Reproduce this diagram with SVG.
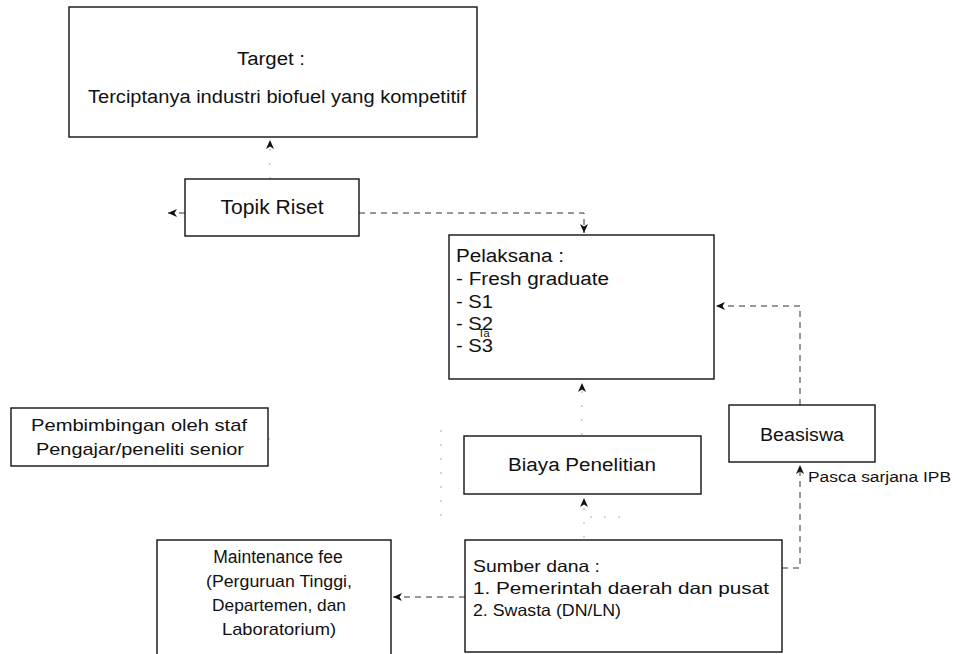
<svg xmlns="http://www.w3.org/2000/svg" width="954" height="654" viewBox="0 0 954 654">
  <defs>
    <marker id="arrow" markerWidth="10" markerHeight="10" refX="9" refY="5" orient="auto" markerUnits="userSpaceOnUse">
      <path d="M0,1 L9,5 L0,9 L2.5,5 Z" fill="#111"/>
    </marker>
  </defs>
  <style>
    .box{fill:#fff;stroke:#111;stroke-width:1.4}
    .t{font-family:"Liberation Sans",Arial,sans-serif;fill:#111}
    .c{text-anchor:middle}
    .dash{fill:none;stroke:#333;stroke-width:1;stroke-dasharray:6 5}
    .faint{fill:none;stroke:#aaa;stroke-width:1;stroke-dasharray:2 12}
  </style>
  <rect x="0" y="0" width="954" height="654" fill="#fff"/>

  <!-- connectors -->
  <g id="connectors">
    <!-- Topik Riset -> Target -->
    <path class="faint" d="M270,179 V140" marker-end="url(#arrow)"/>
    <!-- stub on the left of Topik Riset -->
    <path class="dash" d="M185,213 H168" marker-end="url(#arrow)"/>
    <!-- Topik Riset -> Pelaksana -->
    <path class="dash" d="M359,213 H584 V233" marker-end="url(#arrow)"/>
    <!-- Biaya Penelitian -> Pelaksana -->
    <path class="faint" d="M582,435 V383" marker-end="url(#arrow)"/>
    <!-- Sumber dana -> Biaya Penelitian -->
    <path class="faint" d="M584,538 V498" marker-end="url(#arrow)"/>
    <path class="faint" d="M590,517 H622"/>
    <!-- Sumber dana -> Maintenance fee -->
    <path class="dash" d="M465,597 H393" marker-end="url(#arrow)"/>
    <!-- Sumber dana -> Beasiswa -->
    <path class="dash" d="M782,568 H800 V465" marker-end="url(#arrow)"/>
    <!-- Beasiswa -> Pelaksana -->
    <path class="dash" d="M800,405 V306 H716" marker-end="url(#arrow)"/>
    <!-- Pembimbingan link -->
    <path class="faint" d="M268,439 H276"/>
    <path class="faint" d="M441,430 V520"/>
  </g>

  <g id="target">
    <rect class="box" x="69" y="7" width="408" height="130"/>
    <text class="t c" x="271" y="65" font-size="18" textLength="68" lengthAdjust="spacingAndGlyphs">Target :</text>
    <text class="t c" x="277" y="103" font-size="18" textLength="378" lengthAdjust="spacingAndGlyphs">Terciptanya industri biofuel yang kompetitif</text>
  </g>

  <g id="topik-riset">
    <rect class="box" x="185" y="179" width="174" height="57"/>
    <text class="t c" x="272" y="214" font-size="20" textLength="103" lengthAdjust="spacingAndGlyphs">Topik Riset</text>
  </g>

  <g id="pelaksana">
    <rect class="box" x="449" y="235" width="265" height="144"/>
    <text class="t" x="456" y="262" font-size="18" textLength="108" lengthAdjust="spacingAndGlyphs">Pelaksana :</text>
    <text class="t" x="456" y="285" font-size="18" textLength="153" lengthAdjust="spacingAndGlyphs">- Fresh graduate</text>
    <text class="t" x="456" y="308" font-size="18" textLength="37" lengthAdjust="spacingAndGlyphs">- S1</text>
    <text class="t" x="456" y="330" font-size="18" textLength="37" lengthAdjust="spacingAndGlyphs">- S2</text>
    <text class="t" x="478" y="337" font-size="11">Ta</text>
    <text class="t" x="456" y="352" font-size="18" textLength="37" lengthAdjust="spacingAndGlyphs">- S3</text>
  </g>

  <g id="pembimbingan">
    <rect class="box" x="11" y="408" width="257" height="58"/>
    <text class="t c" x="139" y="431" font-size="17" textLength="216" lengthAdjust="spacingAndGlyphs">Pembimbingan oleh staf</text>
    <text class="t c" x="140" y="455" font-size="17" textLength="208" lengthAdjust="spacingAndGlyphs">Pengajar/peneliti senior</text>
  </g>

  <g id="biaya-penelitian">
    <rect class="box" x="464" y="436" width="237" height="58"/>
    <text class="t c" x="582" y="471" font-size="18" textLength="148" lengthAdjust="spacingAndGlyphs">Biaya Penelitian</text>
  </g>

  <g id="beasiswa">
    <rect class="box" x="729" y="405" width="146" height="57"/>
    <text class="t c" x="802" y="441" font-size="18" textLength="84" lengthAdjust="spacingAndGlyphs">Beasiswa</text>
    <text class="t" x="808" y="482" font-size="14" textLength="143" lengthAdjust="spacingAndGlyphs">Pasca sarjana IPB</text>
  </g>

  <g id="maintenance-fee">
    <rect class="box" x="157" y="540" width="234" height="120"/>
    <text class="t c" x="278" y="563" font-size="17.5">Maintenance fee</text>
    <text class="t c" x="279" y="587" font-size="17" textLength="146" lengthAdjust="spacingAndGlyphs">(Perguruan Tinggi,</text>
    <text class="t c" x="279" y="611" font-size="17" textLength="134" lengthAdjust="spacingAndGlyphs">Departemen, dan</text>
    <text class="t c" x="279" y="635" font-size="17" textLength="114" lengthAdjust="spacingAndGlyphs">Laboratorium)</text>
  </g>

  <g id="sumber-dana">
    <rect class="box" x="465" y="540" width="317" height="112"/>
    <text class="t" x="473" y="572" font-size="16.5" textLength="127" lengthAdjust="spacingAndGlyphs">Sumber dana :</text>
    <text class="t" x="473" y="594" font-size="16.5" textLength="296" lengthAdjust="spacingAndGlyphs">1. Pemerintah daerah dan pusat</text>
    <text class="t" x="473" y="616" font-size="16.5" textLength="148" lengthAdjust="spacingAndGlyphs">2. Swasta (DN/LN)</text>
  </g>
</svg>
